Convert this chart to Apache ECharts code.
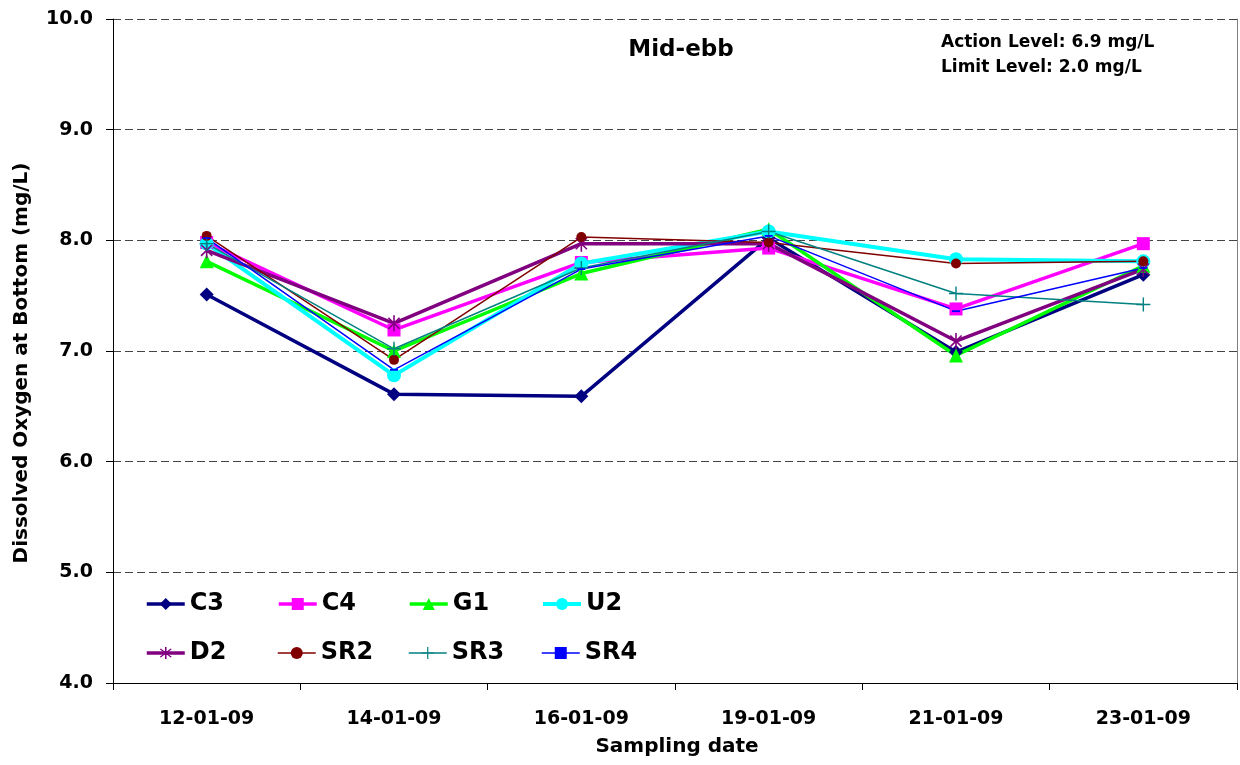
<!DOCTYPE html>
<html>
<head>
<meta charset="utf-8">
<script src="https://cdn.jsdelivr.net/npm/echarts@6/dist/echarts.min.js"></script>
<style>html,body{margin:0;padding:0;background:#fff;}#c{width:1240px;height:765px;}</style>
</head>
<body>
<div id="c"></div>
<script>
var categories = ['12-01-09', '14-01-09', '16-01-09', '19-01-09', '21-01-09', '23-01-09'];
var C3  = [7.51, 6.61, 6.59, 8.02, 6.99, 7.69];
var C4  = [7.98, 7.19, 7.80, 7.93, 7.38, 7.97];
var G1  = [7.81, 7.00, 7.70, 8.10, 6.96, 7.77];
var U2  = [7.97, 6.78, 7.79, 8.08, 7.83, 7.81];
var D2  = [7.91, 7.25, 7.97, 7.97, 7.09, 7.74];
var SR2 = [8.04, 6.92, 8.03, 7.98, 7.79, 7.81];
var SR3 = [7.97, 7.02, 7.75, 8.08, 7.52, 7.42];
var SR4 = [8.02, 6.83, 7.74, 8.04, 7.36, 7.75];
var yTicks = [4, 5, 6, 7, 8, 9, 10];

var FONT = 'DejaVu Sans';
var starPath = 'path://M-1,-10L1,-10L1,10L-1,10Z M-6.3,-7.7L7.7,6.3L6.3,7.7L-7.7,-6.3Z M-7.7,6.3L6.3,-7.7L7.7,-6.3L-6.3,7.7Z';
var plusPath = 'path://M-0.8,-8L0.8,-8L0.8,8L-0.8,8Z M-8,-0.8L8,-0.8L8,0.8L-8,0.8Z';
var dashPath = 'path://M0,0L8,0L8,3.5L0,3.5Z';

var styles = [
  { name: 'C3', data: C3, color: '#000080', symbol: 'diamond', size: 14, width: 3.5 },
  { name: 'C4', data: C4, color: '#FF00FF', symbol: 'rect', size: 13, width: 3.5 },
  { name: 'G1', data: G1, color: '#00FF00', symbol: 'triangle', size: 14, width: 3.5 },
  { name: 'U2', data: U2, color: '#00FFFF', symbol: 'circle', size: 14, width: 4 },
  { name: 'D2', data: D2, color: '#800080', symbol: starPath, size: 16, width: 3.5 },
  { name: 'SR2', data: SR2, color: '#800000', symbol: 'circle', size: 10, width: 1.5 },
  { name: 'SR3', data: SR3, color: '#008080', symbol: plusPath, size: 14, width: 1.5 },
  { name: 'SR4', data: SR4, color: '#0000FF', symbol: dashPath, size: [8, 4], width: 1.5 }
];

var series = styles.map(function (s) {
  return {
    name: s.name, type: 'line', data: s.data,
    symbol: s.symbol, symbolSize: s.size, showSymbol: true, symbolKeepAspect: true,
    lineStyle: { color: s.color, width: s.width },
    itemStyle: { color: s.color, borderWidth: 0 },
    emphasis: { disabled: true },
    animation: false
  };
});

var legendX = [145, 277, 408, 541];
var legendY = [603, 652];
var legends = styles.map(function (s, i) {
  return {
    data: [s.name], left: legendX[i % 4], top: legendY[Math.floor(i / 4)] - 11,
    itemWidth: 38, itemHeight: 15, itemGap: 0, padding: 0,
    selectedMode: false, symbolKeepAspect: true,
    lineStyle: { width: s.width },
    textStyle: { fontFamily: FONT, fontSize: 24, fontWeight: 'bold', color: '#000' }
  };
});

var chart = echarts.init(document.getElementById('c'));
chart.setOption({
  backgroundColor: '#fff',
  animation: false,
  grid: { left: 113, right: 3, top: 19, bottom: 82 },
  legend: legends,
  xAxis: {
    type: 'category', data: categories, boundaryGap: true,
    axisLine: { lineStyle: { color: '#000', width: 1 } },
    axisTick: { show: true, length: 7, alignWithLabel: false, lineStyle: { color: '#000' } },
    axisLabel: { margin: 27, fontFamily: FONT, fontSize: 19, fontWeight: 'bold', color: '#000' }
  },
  yAxis: [{
    type: 'value', min: 4, max: 10, interval: 1,
    axisLine: { show: true, lineStyle: { color: '#000', width: 1 } },
    axisTick: { show: true, length: 7, lineStyle: { color: '#000' } },
    axisLabel: { margin: 20, fontFamily: FONT, fontSize: 19, fontWeight: 'bold', color: '#000',
      formatter: function (v) { return yTicks.indexOf(v) >= 0 ? v.toFixed(1) : ''; } },
    splitLine: { show: true, lineStyle: { color: '#444', type: [8, 4], width: 1 } }
  }, {
    type: 'value', min: 4, max: 10, interval: 1, position: 'right',
    axisLine: { show: true, lineStyle: { color: '#808080', width: 1 } },
    axisTick: { show: false }, axisLabel: { show: false }, splitLine: { show: false }
  }],
  series: series,
  graphic: [
    { type: 'text', x: 681, y: 50, style: { text: 'Mid-ebb', fontFamily: FONT, fontSize: 23, fontWeight: 'bold', fill: '#000', textAlign: 'center', textVerticalAlign: 'middle' } },
    { type: 'text', x: 941, y: 43, style: { text: 'Action Level: 6.9 mg/L', fontFamily: FONT, fontSize: 17, fontWeight: 'bold', fill: '#000', textAlign: 'left', textVerticalAlign: 'middle' } },
    { type: 'text', x: 941, y: 68, style: { text: 'Limit Level: 2.0 mg/L', fontFamily: FONT, fontSize: 17, fontWeight: 'bold', fill: '#000', textAlign: 'left', textVerticalAlign: 'middle' } },
    { type: 'text', x: 677, y: 747, style: { text: 'Sampling date', fontFamily: FONT, fontSize: 20, fontWeight: 'bold', fill: '#000', textAlign: 'center', textVerticalAlign: 'middle' } },
    { type: 'text', x: 22, y: 363, rotation: Math.PI / 2, style: { text: 'Dissolved Oxygen at Bottom (mg/L)', fontFamily: FONT, fontSize: 20, fontWeight: 'bold', fill: '#000', textAlign: 'center', textVerticalAlign: 'middle' } }
  ]
});
</script>
</body>
</html>
